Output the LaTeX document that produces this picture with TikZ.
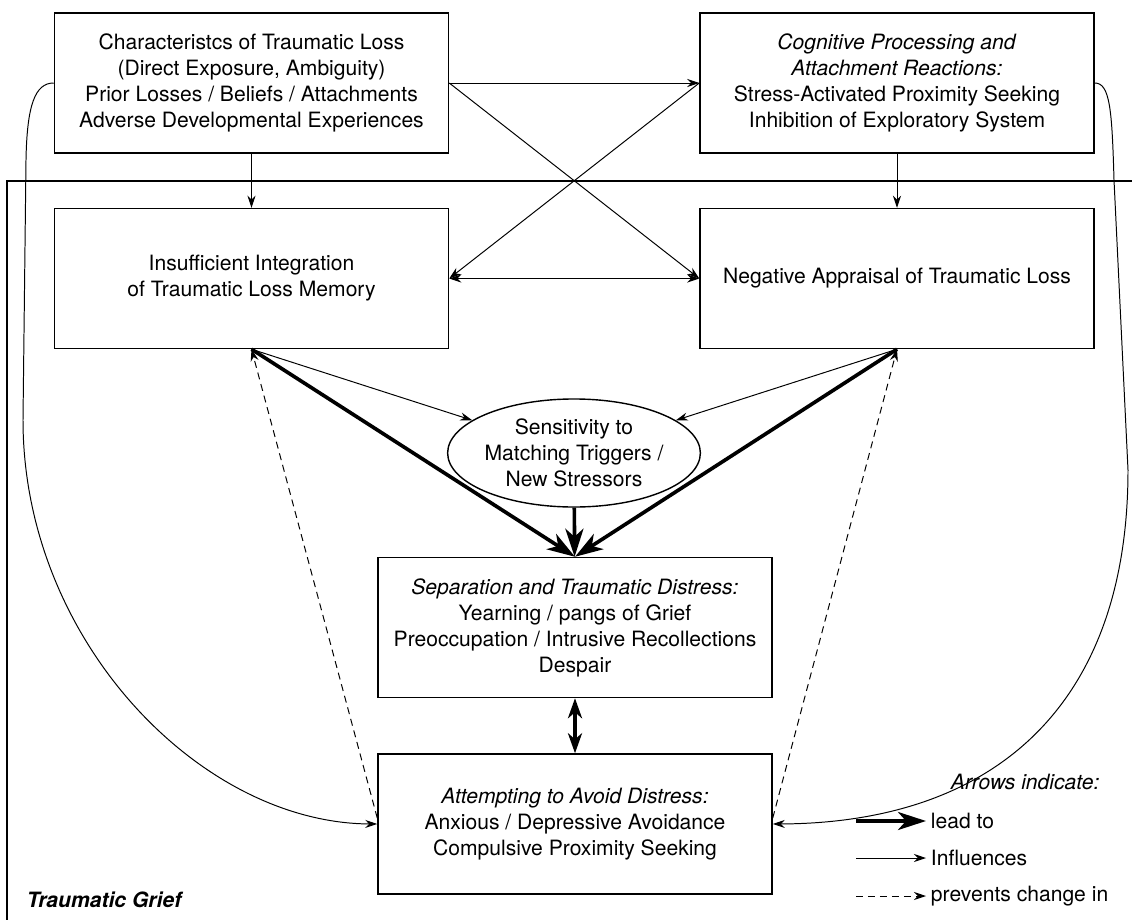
\documentclass[tikz,border=0pt]{standalone}
\usepackage{fontspec}
\setmainfont{TeX Gyre Heros}
\usetikzlibrary{arrows.meta,shapes,positioning}

\begin{document}
\begin{tikzpicture}[x = 0.025cm, y = -0.025cm,
                        font = \fontsize{15}{18.5}\selectfont,
                        box/.style = {draw, line width = 1pt, minimum width = 9.85cm, minimum height = 3.5cm, align = center, inner sep = 0pt},
                        oval/.style = {draw, ellipse, line width = 1pt, minimum width = 5.72cm, minimum height = 2.7cm, align = center, inner sep = 0pt},
                        influence/.style = {line width = 0.7pt, -{Stealth[length = 3mm, width = 2mm]}},
                        mutual/.style = {line width = 0.7pt, {Stealth[length = 3mm, width = 2mm]}-{Stealth[length = 3mm, width = 2mm]}},
                        leads/.style = {line width = 2.6pt, -{Stealth[length = 7mm, width = 4.5mm, inset = 2mm]}},
                        leads_both/.style = {line width = 2.6pt, {Stealth[length = 5mm, width = 3.5mm, inset = 1.5mm]}-{Stealth[length = 5mm, width = 3.5mm, inset = 1.5mm]}},
                        prevents/.style = {line width = 0.7pt, dash pattern = on 5pt off 3.5pt, -{Stealth[length = 3mm, width = 2mm]}},
                        frame/.style = {line width = 1pt}]
        \useasboundingbox (0,0) rectangle (1132,920);
        %frame of traumatic grief
        \draw[frame] (1132,181) -- (7,181) -- (7,920);
        \node[anchor = west] (grief) at (22,900) {\bfseries\itshape Traumatic Grief};
        %boxes
        \node[box] (loss) at (251.5,83) {Characteristcs of Traumatic Loss\\(Direct Exposure, Ambiguity)\\Prior Losses / Beliefs / Attachments\\Adverse Developmental Experiences};
        \node[box] (cogn) at (897,83) {\textit{Cognitive Processing and}\\\textit{Attachment Reactions:}\\Stress-Activated Proximity Seeking\\Inhibition of Exploratory System};
        \node[box] (integr) at (251.5,278.5) {Insufficient Integration\\of Traumatic Loss Memory};
        \node[box] (apprais) at (897,278.5) {Negative Appraisal of Traumatic Loss};
        \node[oval] (sensit) at (574,453) {Sensitivity to\\Matching Triggers /\\New Stressors};
        \node[box] (distress) at (575,627.5) {\textit{Separation and Traumatic Distress:}\\Yearning / pangs of Grief\\Preoccupation / Intrusive Recollections\\Despair};
        \node[box] (avoid) at (575,824) {\textit{Attempting to Avoid Distress:}\\Anxious / Depressive Avoidance\\Compulsive Proximity Seeking};
        %influences
        \draw[influence] (loss) -- (integr);
        \draw[influence] (cogn) -- (apprais);
        \draw[influence] (loss.east) -- (cogn.west);
        \draw[influence] (loss.east) -- (apprais.west);
        \draw[influence] (cogn.west) -- (integr.east);
        \draw[mutual] (integr.east) -- (apprais.west);
        \draw[influence] (integr.south) -- (sensit);
        \draw[influence] (apprais.south) -- (sensit);
        \draw[influence] (loss.west) .. controls (35,83) and (27,105) .. (26,160) -- (23,420) .. controls (23,640) and (200,823) .. (avoid.west);
        \draw[influence] (cogn.east) .. controls (1110,83) and (1112,110) .. (1114,180) -- (1128,470) .. controls (1128,700) and (1000,823) .. (avoid.east);
        %lead to
        \draw[leads] (integr.south) -- (distress.north);
        \draw[leads] (apprais.south) -- (distress.north);
        \draw[leads] (sensit) -- (distress);
        \draw[leads_both] (distress) -- (avoid);
        %prevents change in
        \draw[prevents] ([yshift = 0.15cm]avoid.west) -- (integr.south);
        \draw[prevents] ([yshift = 0.15cm]avoid.east) -- (apprais.south);
        %legend
        \node[anchor = west] (legend) at (946,782) {\itshape Arrows indicate:};
        \coordinate (key1) at (856,821);
        \coordinate (key2) at (856,858);
        \coordinate (key3) at (856,896);
        \node[anchor = west] (leadto) at (926,821) {lead to};
        \node[anchor = west] (influ) at (926,858) {Influences};
        \node[anchor = west] (prevent) at (926,896) {prevents change in};
        \draw[leads] (key1) -- (leadto);
        \draw[influence] (key2) -- (influ);
        \draw[prevents] (key3) -- (prevent);
    \end{tikzpicture}
\end{document}
